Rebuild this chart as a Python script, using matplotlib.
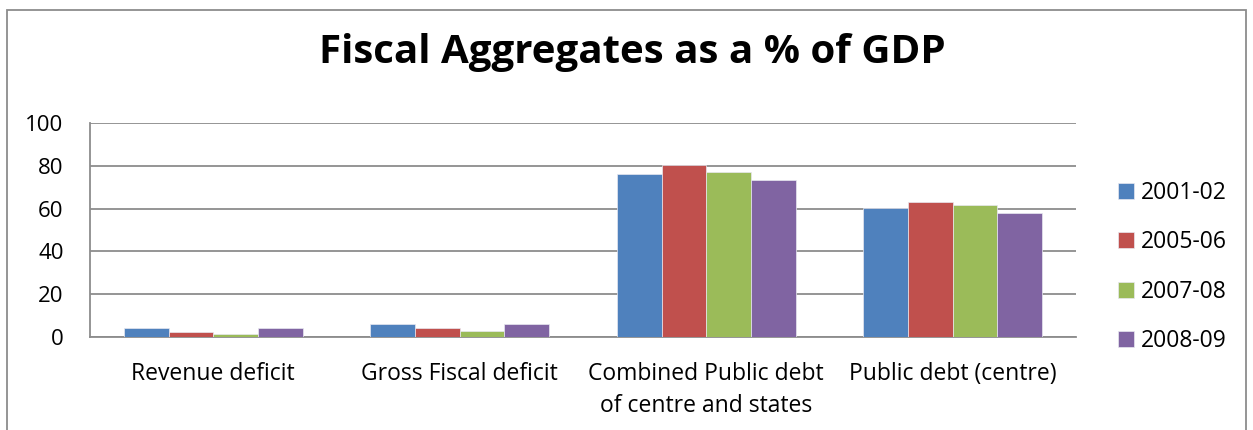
import matplotlib
matplotlib.use("Agg")
import matplotlib.pyplot as plt
import numpy as np
from matplotlib.patches import Rectangle

categories = ["Revenue deficit", "Gross Fiscal deficit",
              "Combined Public debt\nof centre and states", "Public debt (centre)"]
series_names = ["2001-02", "2005-06", "2007-08", "2008-09"]
v2001 = [4.3, 6.2, 76.2, 60.3]
v2005 = [2.5, 4.0, 80.5, 63.2]
v2007 = [1.2, 2.7, 77.1, 61.7]
v2008 = [4.4, 6.0, 73.4, 57.8]
values = [v2001, v2005, v2007, v2008]
colors = ["#4F81BD", "#C0504D", "#9BBB59", "#8064A2"]
yticks = [0, 20, 40, 60, 80, 100]

plt.rcParams['font.family'] = ['Open Sans', 'DejaVu Sans']

W, H = 1253, 430
fig = plt.figure(figsize=(W/100, H/100), dpi=100)
ax = fig.add_axes([90/W, 1-337/H, (1076-90)/W, (337-123)/H])

x = np.arange(len(categories))
bw = 0.1815
for i, (name, vals, c) in enumerate(zip(series_names, values, colors)):
    ax.bar(x + (i-1.5)*bw, vals, width=bw, color=c, label=name,
           edgecolor="#E8E8F0", linewidth=0.5, zorder=3)

ax.set_xlim(-0.5, 3.5)
ax.set_ylim(0, 100)
ax.set_yticks(yticks)
ax.set_yticklabels([str(t) for t in yticks], fontsize=16)
ax.set_xticks(x)
ax.set_xticklabels(categories, fontsize=16.5, linespacing=1.46)
ax.tick_params(axis='both', length=0, colors='black')
ax.tick_params(axis='y', pad=19)
ax.tick_params(axis='x', pad=18)
ax.yaxis.grid(True, color="#8C8C8C", linewidth=1.3, zorder=0)
ax.set_axisbelow(True)
for s in ["top", "right"]:
    ax.spines[s].set_visible(False)
for s in ["left", "bottom"]:
    ax.spines[s].set_color("#8C8C8C")
    ax.spines[s].set_linewidth(1.3)

leg = fig.legend(loc="upper left", bbox_to_anchor=(1118/W, 1-181/H),
                 frameon=False, fontsize=16.5, handlelength=0.69, handleheight=0.69,
                 handletextpad=0.3, labelspacing=1.11, borderaxespad=0, borderpad=0)

fig.text(632/W, 1-52/H, "Fiscal Aggregates as a % of GDP", ha="center", va="center",
         fontsize=29, fontweight="bold")

fig.patches.append(Rectangle((7/W, -0.1), (1246-7)/W, 1.1 - 10/H,
                             transform=fig.transFigure, fill=False,
                             edgecolor="#8C8C8C", linewidth=1.3))

fig.savefig("out.png", dpi=100)
